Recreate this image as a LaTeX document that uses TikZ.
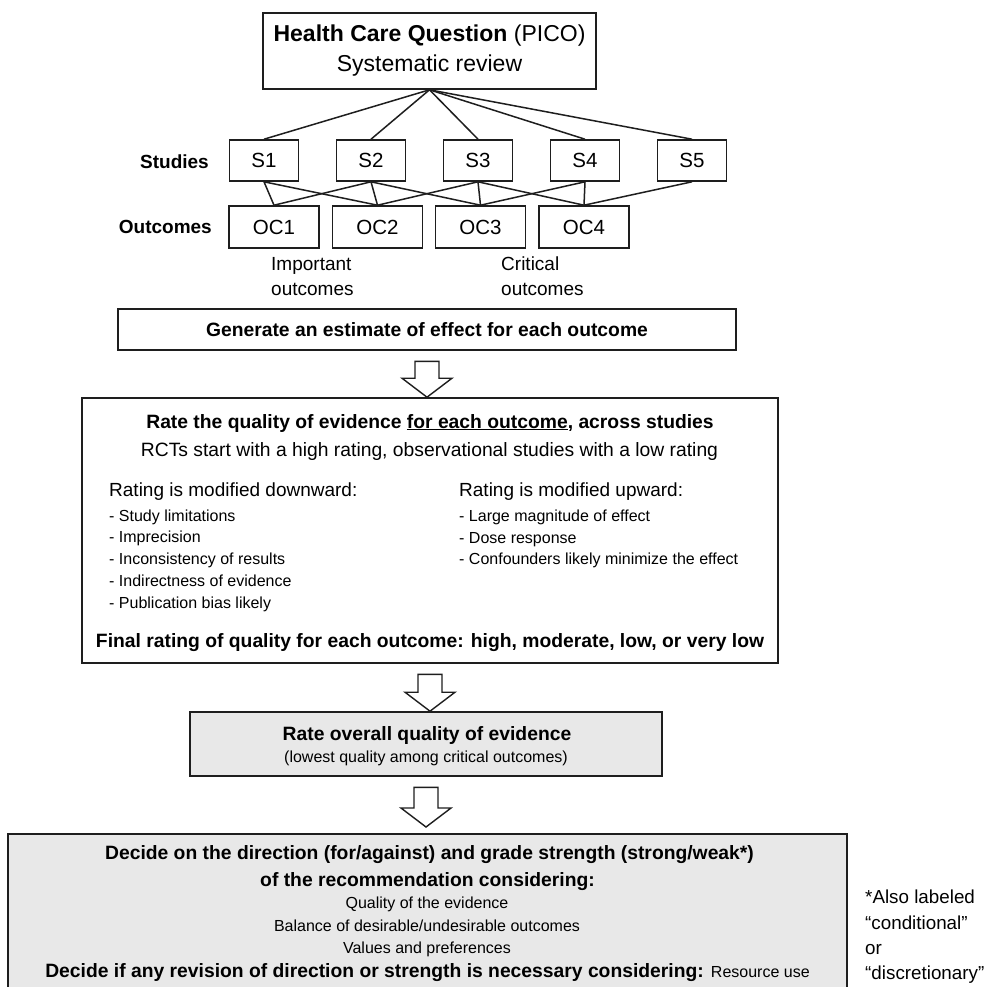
\documentclass[tikz,border=0pt]{standalone}
\usepackage{fontspec}
\setmainfont{Liberation Sans}
\usetikzlibrary{calc}
\definecolor{boxgray}{RGB}{232,232,232}
\definecolor{linecol}{RGB}{30,30,30}
\newcommand\fhuge{\fontsize{23}{30}\selectfont}
\newcommand\fbx{\fontsize{20.5}{24}\selectfont}
\newcommand\fbig{\fontsize{19.3}{23}\selectfont}
\newcommand\flab{\fontsize{19}{25}\selectfont}
\newcommand\fsmall{\fontsize{16}{21.8}\selectfont}
\newcommand\fnote{\fontsize{18.8}{25.3}\selectfont}
\tikzset{
  box/.style={draw=linecol, line width=1.6pt, inner sep=0pt, align=center},
  sbox/.style={box, minimum width=69pt, minimum height=41pt, font=\fbx},
  ocbox/.style={box, minimum width=90pt, minimum height=42pt, font=\fbx},
  link/.style={draw=linecol, line width=1.5pt},
  blockarr/.style={draw=linecol, line width=1.4pt, fill=white, line join=miter},
  txt/.style={inner sep=0pt},
}
\newcommand\blockarrow[3]{%
  \draw[blockarr] let \p1=(#1.south), \p2=(#2.north) in
   (\x1-12pt,\y1-10.5pt) -- (\x1+12pt,\y1-10.5pt) -- (\x1+12pt,\y2+19pt+#3) --
   (\x1+25pt,\y2+19pt+#3) -- (\x1,\y2+#3) -- (\x1-25pt,\y2+19pt+#3) --
   (\x1-12pt,\y2+19pt+#3) -- cycle;}
\begin{document}
\begin{tikzpicture}[x=1pt,y=-1pt]
\useasboundingbox (0,0) rectangle (987,986);
\fill[white] (0,0) rectangle (987,986);

% top question box
\node[box, minimum width=333pt, minimum height=76pt, font=\fhuge] (hcq) at (429.5,51)
  {\textbf{Health Care Question} (PICO)\\Systematic review};

% studies
\node[sbox] (s1) at (264,160.5) {S1};
\node[sbox] (s2) at (371,160.5) {S2};
\node[sbox] (s3) at (478,160.5) {S3};
\node[sbox] (s4) at (585,160.5) {S4};
\node[sbox] (s5) at (692,160.5) {S5};

% outcomes
\node[ocbox] (oc1) at (274,227) {OC1};
\node[ocbox] (oc2) at (377.5,227) {OC2};
\node[ocbox] (oc3) at (480.5,227) {OC3};
\node[ocbox] (oc4) at (584,227) {OC4};

% row labels
\node[txt, anchor=east, font=\flab\bfseries] (studies) at (209,162) {Studies};
\node[txt, anchor=east, font=\flab\bfseries] (outcomes) at (212,227) {Outcomes};

% links question -> studies
\foreach \s in {s1,s2,s3,s4,s5} \draw[link] (hcq.south) -- (\s.north);

% links studies -> outcomes
\draw[link] (s1.south) -- (oc1.north);
\draw[link] (s1.south) -- (oc2.north);
\draw[link] (s2.south) -- (oc1.north);
\draw[link] (s2.south) -- (oc2.north);
\draw[link] (s2.south) -- (oc3.north);
\draw[link] (s3.south) -- (oc2.north);
\draw[link] (s3.south) -- (oc3.north);
\draw[link] (s3.south) -- (oc4.north);
\draw[link] (s4.south) -- (oc3.north);
\draw[link] (s4.south) -- (oc4.north);
\draw[link] (s5.south) -- (oc4.north);

% outcome category labels
\node[txt, anchor=west, align=left, font=\flab] (imp) at (271,276.5) {Important\\outcomes};
\node[txt, anchor=west, align=left, font=\flab] (crit) at (501,276.5) {Critical\\outcomes};

% generate box
\node[box, minimum width=618pt, minimum height=41pt, font=\fbig\bfseries] (gen) at (427,329.5)
  {Generate an estimate of effect for each outcome};

% rate quality box
\node[box, minimum width=696pt, minimum height=265pt] (rate) at (430,530.5) {};
\node[txt, font=\fbig\bfseries] (rate1) at (430,423)
  {Rate the quality of evidence \underline{for each outcome}, across studies};
\node[txt, font=\fbig] (rate2) at (429.5,451)
  {RCTs start with a high rating, observational studies with a low rating};
\node[txt, anchor=west, font=\flab] (down) at (109,492) {Rating is modified downward:};
\node[txt, anchor=west, font=\flab] (up) at (459,492) {Rating is modified upward:};
\node[txt, anchor=west, align=left, font=\fsmall] (downlist) at (109,560.5)
  {- Study limitations\\- Imprecision\\- Inconsistency of results\\- Indirectness of evidence\\- Publication bias likely};
\node[txt, anchor=west, align=left, font=\fsmall] (uplist) at (459,539)
  {- Large magnitude of effect\\- Dose response\\- Confounders likely minimize the effect};
\node[txt, font=\fbig\bfseries] (final) at (430,643)
  {Final rating of quality for each outcome: high, moderate, low, or very low};

% overall quality box
\node[box, fill=boxgray, minimum width=472pt, minimum height=64pt] (over) at (426,744) {};
\node[txt, font=\fbig\bfseries] (over1) at (427,735) {Rate overall quality of evidence};
\node[txt, font=\fsmall] (over2) at (426,758) {(lowest quality among critical outcomes)};

% decision box
\node[box, fill=boxgray, minimum width=839pt, minimum height=165pt, anchor=north] (dec) at (427.5,833) {};
\node[txt, font=\fbig\bfseries] (dec1) at (429.5,855)
  {Decide on the direction (for/against) and grade strength (strong/weak*)};
\node[txt, font=\fbig\bfseries] (dec2) at (427.5,882) {of the recommendation considering:};
\node[txt, font=\fsmall] (dec3) at (427,904) {Quality of the evidence};
\node[txt, font=\fsmall] (dec4) at (427,926) {Balance of desirable/undesirable outcomes};
\node[txt, font=\fsmall] (dec5) at (427,949) {Values and preferences};
\node[txt, font=\fbig] (dec6) at (427.5,973)
  {\textbf{Decide if any revision of direction or strength is necessary considering:} {\fsmall Resource use}};

% footnote
\node[txt, anchor=west, align=left, font=\fnote] (note) at (865,937)
  {*Also labeled\\“conditional”\\or\\“discretionary”};

% block arrows
\blockarrow{gen}{rate}{0pt}
\blockarrow{rate}{over}{0pt}
\blockarrow{over}{dec}{6pt}
\end{tikzpicture}
\end{document}
